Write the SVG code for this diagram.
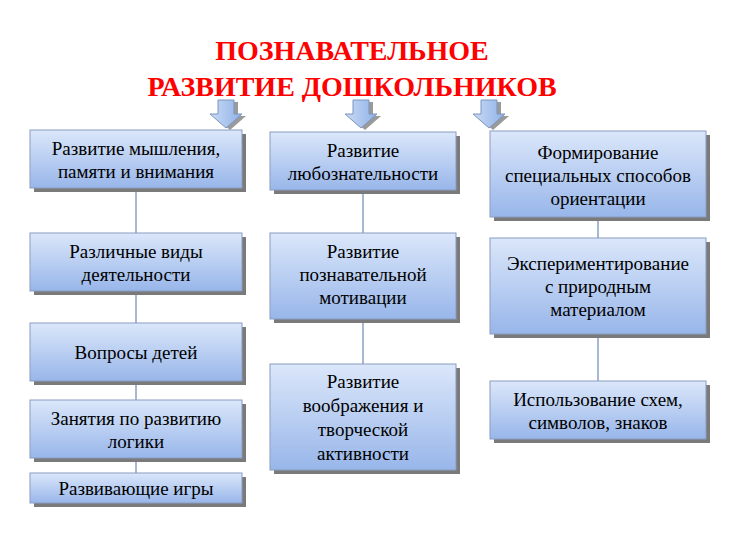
<svg xmlns="http://www.w3.org/2000/svg" width="736" height="552" viewBox="0 0 736 552">
<defs>
<linearGradient id="g" x1="0" y1="0" x2="0" y2="1"><stop offset="0" stop-color="#dbe7fa"/><stop offset="1" stop-color="#98b6ea"/></linearGradient>
<linearGradient id="ga" x1="0" y1="0" x2="1" y2="0"><stop offset="0" stop-color="#c9dcf6"/><stop offset="1" stop-color="#8fb0e6"/></linearGradient>
<g id="arr"><path d="M-8,0 H8 V14 H16 L0,28 L-16,14 H-8 Z"/></g>
</defs>
<style>
.sh{fill:#7a7a7a}
.bx{fill:url(#g);stroke:#8a9cc0;stroke-width:1}
text{font-family:"Liberation Serif","Times New Roman","DejaVu Serif",serif}
.t{font-size:19px;fill:#000;text-anchor:middle}
.ti{font-size:28px;font-weight:bold;fill:#ff0000;text-anchor:middle}
.ln{stroke:#8aa0c0;stroke-width:1.5}
.ar{fill:url(#ga);stroke:#7d94bd;stroke-width:1}
.as{fill:#9a9a9a}
</style>
<rect width="736" height="552" fill="#fff"/>
<text class="ti" x="352" y="60" font-family="Liberation Serif, serif">ПОЗНАВАТЕЛЬНОЕ</text>
<text class="ti" x="352" y="96" font-family="Liberation Serif, serif">РАЗВИТИЕ ДОШКОЛЬНИКОВ</text>
<g id="arrows">
<use href="#arr" x="230" y="102" class="as"/><use href="#arr" x="226" y="100" class="ar"/>
<use href="#arr" x="365" y="102" class="as"/><use href="#arr" x="361" y="100" class="ar"/>
<use href="#arr" x="493" y="102" class="as"/><use href="#arr" x="489" y="100" class="ar"/>
</g>
<g id="connectors">
<line class="ln" x1="136" y1="188" x2="136" y2="473"/>
<line class="ln" x1="363" y1="190" x2="363" y2="364"/>
<line class="ln" x1="598" y1="217" x2="598" y2="381"/>
</g>
<g font-family="Liberation Serif, serif">
<g id="n1"><rect class="sh" x="34" y="134" width="212" height="58"/><rect class="bx" x="30" y="130" width="212" height="58"/><text class="t" x="136" y="155">Развитие мышления,</text><text class="t" x="136" y="178">памяти и внимания</text></g>
<g id="n2"><rect class="sh" x="34" y="237" width="212" height="58"/><rect class="bx" x="30" y="233" width="212" height="58"/><text class="t" x="136" y="258">Различные виды</text><text class="t" x="136" y="281">деятельности</text></g>
<g id="n3"><rect class="sh" x="34" y="327" width="212" height="58"/><rect class="bx" x="30" y="323" width="212" height="58"/><text class="t" x="136" y="359">Вопросы детей</text></g>
<g id="n4"><rect class="sh" x="34" y="404" width="212" height="58"/><rect class="bx" x="30" y="400" width="212" height="58"/><text class="t" x="136" y="425">Занятия по развитию</text><text class="t" x="136" y="448">логики</text></g>
<g id="n5"><rect class="sh" x="34" y="477" width="212" height="30"/><rect class="bx" x="30" y="473" width="212" height="30"/><text class="t" x="136" y="495">Развивающие игры</text></g>
<g id="n6"><rect class="sh" x="274" y="136" width="186" height="58"/><rect class="bx" x="270" y="132" width="186" height="58"/><text class="t" x="363" y="157">Развитие</text><text class="t" x="363" y="180">любознательности</text></g>
<g id="n7"><rect class="sh" x="274" y="237" width="186" height="86"/><rect class="bx" x="270" y="233" width="186" height="86"/><text class="t" x="363" y="258">Развитие</text><text class="t" x="363" y="281">познавательной</text><text class="t" x="363" y="304">мотивации</text></g>
<g id="n8"><rect class="sh" x="274" y="368" width="186" height="106"/><rect class="bx" x="270" y="364" width="186" height="106"/><text class="t" x="363" y="388">Развитие</text><text class="t" x="363" y="412">воображения и</text><text class="t" x="363" y="436">творческой</text><text class="t" x="363" y="460">активности</text></g>
<g id="n9"><rect class="sh" x="494" y="135" width="216" height="86"/><rect class="bx" x="490" y="131" width="216" height="86"/><text class="t" x="598" y="159">Формирование</text><text class="t" x="598" y="182">специальных способов</text><text class="t" x="598" y="205">ориентации</text></g>
<g id="n10"><rect class="sh" x="494" y="242" width="216" height="96"/><rect class="bx" x="490" y="238" width="216" height="96"/><text class="t" x="598" y="270">Экспериментирование</text><text class="t" x="598" y="293">с природным</text><text class="t" x="598" y="316">материалом</text></g>
<g id="n11"><rect class="sh" x="494" y="385" width="216" height="58"/><rect class="bx" x="490" y="381" width="216" height="58"/><text class="t" x="598" y="406">Использование схем,</text><text class="t" x="598" y="429">символов, знаков</text></g>
</g>
</svg>
